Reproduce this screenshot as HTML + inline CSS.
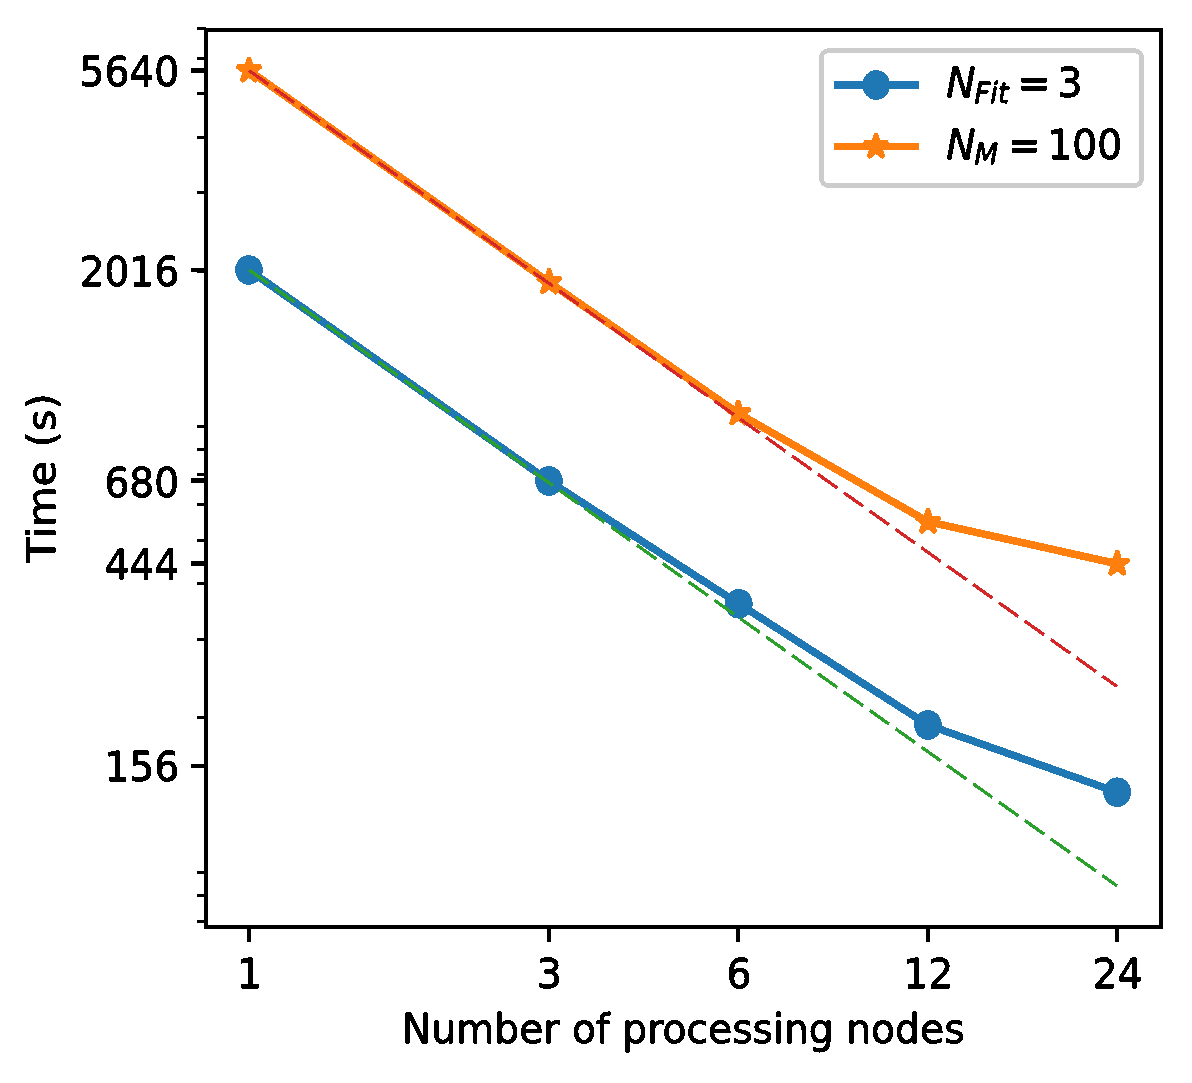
<!DOCTYPE html>
<html lang="en"><head><meta charset="utf-8"><title>Scaling plot</title>
<style>html,body{margin:0;padding:0;background:#fff;}svg{display:block;}text{font-family:"DejaVu Sans", "Liberation Sans", sans-serif;font-size:41.67px;fill:#000;stroke:#000;stroke-width:0.5px;stroke-linejoin:miter;}</style></head><body>
<svg width="1192" height="1083" viewBox="0 0 1192 1083">
<defs><filter id="bin" x="-5%" y="-5%" width="110%" height="110%" color-interpolation-filters="sRGB"><feComponentTransfer><feFuncA type="discrete" tableValues="0 1 1 1"/></feComponentTransfer></filter></defs>
<rect x="0" y="0" width="1192" height="1083" fill="#ffffff"/>
<g id="series" shape-rendering="crispEdges">
<polyline fill="none" stroke="#1f77b4" stroke-width="7.60" stroke-linejoin="round"  points="249.0,270.0 549.0,481.0 738.8,603.8 928.0,725.0 1117.2,792.2"/>
<ellipse cx="249.0" cy="270.0" rx="13.9" ry="14.8" fill="#1f77b4"/>
<ellipse cx="549.0" cy="481.0" rx="13.9" ry="14.8" fill="#1f77b4"/>
<ellipse cx="738.8" cy="603.8" rx="13.9" ry="14.8" fill="#1f77b4"/>
<ellipse cx="928.0" cy="725.0" rx="13.9" ry="14.8" fill="#1f77b4"/>
<ellipse cx="1117.2" cy="792.2" rx="13.9" ry="14.8" fill="#1f77b4"/>
<polyline fill="none" stroke="#ff7f0e" stroke-width="7.60" stroke-linejoin="round"  points="249.0,70.5 549.2,282.3 738.3,413.4 928.0,521.7 1117.3,563.8"/>
<polygon transform="translate(249.0,70.5) scale(0.95,1)" fill="#ff7f0e" stroke="#ff7f0e" stroke-width="4.17" stroke-linejoin="bevel" points="0.00,-13.20 -2.96,-4.08 -12.55,-4.08 -4.80,1.56 -7.76,10.68 0.00,5.04 7.76,10.68 4.80,1.56 12.55,-4.08 2.96,-4.08"/>
<polygon transform="translate(549.2,282.3) scale(0.95,1)" fill="#ff7f0e" stroke="#ff7f0e" stroke-width="4.17" stroke-linejoin="bevel" points="0.00,-13.20 -2.96,-4.08 -12.55,-4.08 -4.80,1.56 -7.76,10.68 0.00,5.04 7.76,10.68 4.80,1.56 12.55,-4.08 2.96,-4.08"/>
<polygon transform="translate(738.3,413.4) scale(0.95,1)" fill="#ff7f0e" stroke="#ff7f0e" stroke-width="4.17" stroke-linejoin="bevel" points="0.00,-13.20 -2.96,-4.08 -12.55,-4.08 -4.80,1.56 -7.76,10.68 0.00,5.04 7.76,10.68 4.80,1.56 12.55,-4.08 2.96,-4.08"/>
<polygon transform="translate(928.0,521.7) scale(0.95,1)" fill="#ff7f0e" stroke="#ff7f0e" stroke-width="4.17" stroke-linejoin="bevel" points="0.00,-13.20 -2.96,-4.08 -12.55,-4.08 -4.80,1.56 -7.76,10.68 0.00,5.04 7.76,10.68 4.80,1.56 12.55,-4.08 2.96,-4.08"/>
<polygon transform="translate(1117.3,563.8) scale(0.95,1)" fill="#ff7f0e" stroke="#ff7f0e" stroke-width="4.17" stroke-linejoin="bevel" points="0.00,-13.20 -2.96,-4.08 -12.55,-4.08 -4.80,1.56 -7.76,10.68 0.00,5.04 7.76,10.68 4.80,1.56 12.55,-4.08 2.96,-4.08"/>
<polyline fill="none" stroke="#2ca02c" stroke-width="3.30" stroke-linejoin="round" stroke-dasharray="23.8 7.91" points="249.0,269.9 1117.0,885.9"/>
<polyline fill="none" stroke="#d62728" stroke-width="3.30" stroke-linejoin="round" stroke-dasharray="23.8 7.91" points="249.0,70.5 1117.0,686.5"/>
</g>
<g id="axes" shape-rendering="crispEdges">
<rect x="206.0" y="30.0" width="955.0" height="897.0" fill="none" stroke="#000" stroke-width="4"/>
<line x1="249.0" y1="927.0" x2="249.0" y2="941.6" stroke="#000" stroke-width="4"/>
<line x1="549.1" y1="927.0" x2="549.1" y2="941.6" stroke="#000" stroke-width="4"/>
<line x1="738.4" y1="927.0" x2="738.4" y2="941.6" stroke="#000" stroke-width="4"/>
<line x1="927.7" y1="927.0" x2="927.7" y2="941.6" stroke="#000" stroke-width="4"/>
<line x1="1117.0" y1="927.0" x2="1117.0" y2="941.6" stroke="#000" stroke-width="4"/>
<line x1="206.0" y1="70.5" x2="191.4" y2="70.5" stroke="#000" stroke-width="4.6"/>
<line x1="206.0" y1="269.9" x2="191.4" y2="269.9" stroke="#000" stroke-width="4.6"/>
<line x1="206.0" y1="480.5" x2="191.4" y2="480.5" stroke="#000" stroke-width="4.6"/>
<line x1="206.0" y1="563.2" x2="191.4" y2="563.2" stroke="#000" stroke-width="4.6"/>
<line x1="206.0" y1="765.9" x2="191.4" y2="765.9" stroke="#000" stroke-width="4.6"/>
<line x1="206.0" y1="28.6" x2="196.8" y2="28.6" stroke="#000" stroke-width="3"/>
<line x1="206.0" y1="58.5" x2="196.8" y2="58.5" stroke="#000" stroke-width="3"/>
<line x1="206.0" y1="93.8" x2="196.8" y2="93.8" stroke="#000" stroke-width="3"/>
<line x1="206.0" y1="137.1" x2="196.8" y2="137.1" stroke="#000" stroke-width="3"/>
<line x1="206.0" y1="192.9" x2="196.8" y2="192.9" stroke="#000" stroke-width="3"/>
<line x1="206.0" y1="271.4" x2="196.8" y2="271.4" stroke="#000" stroke-width="3"/>
<line x1="206.0" y1="426.2" x2="196.8" y2="426.2" stroke="#000" stroke-width="3"/>
<line x1="206.0" y1="449.0" x2="196.8" y2="449.0" stroke="#000" stroke-width="3"/>
<line x1="206.0" y1="474.9" x2="196.8" y2="474.9" stroke="#000" stroke-width="3"/>
<line x1="206.0" y1="504.8" x2="196.8" y2="504.8" stroke="#000" stroke-width="3"/>
<line x1="206.0" y1="540.1" x2="196.8" y2="540.1" stroke="#000" stroke-width="3"/>
<line x1="206.0" y1="583.4" x2="196.8" y2="583.4" stroke="#000" stroke-width="3"/>
<line x1="206.0" y1="639.2" x2="196.8" y2="639.2" stroke="#000" stroke-width="3"/>
<line x1="206.0" y1="717.7" x2="196.8" y2="717.7" stroke="#000" stroke-width="3"/>
<line x1="206.0" y1="872.5" x2="196.8" y2="872.5" stroke="#000" stroke-width="3"/>
<line x1="206.0" y1="895.3" x2="196.8" y2="895.3" stroke="#000" stroke-width="3"/>
<line x1="206.0" y1="921.2" x2="196.8" y2="921.2" stroke="#000" stroke-width="3"/>
</g>
<g id="labels" filter="url(#bin)">
<text transform="translate(249.5,987.6) scale(0.942,1)" text-anchor="middle">1</text>
<text transform="translate(549.6,987.6) scale(0.942,1)" text-anchor="middle">3</text>
<text transform="translate(738.9,987.6) scale(0.942,1)" text-anchor="middle">6</text>
<text transform="translate(928.2,987.6) scale(0.942,1)" text-anchor="middle">12</text>
<text transform="translate(1117.5,987.6) scale(0.942,1)" text-anchor="middle">24</text>
<text transform="translate(179.3,86.4) scale(0.942,1)" text-anchor="end">5640</text>
<text transform="translate(179.3,285.7) scale(0.942,1)" text-anchor="end">2016</text>
<text transform="translate(179.3,496.5) scale(0.942,1)" text-anchor="end">680</text>
<text transform="translate(179.3,578.5) scale(0.942,1)" text-anchor="end">444</text>
<text transform="translate(179.3,780.8) scale(0.942,1)" text-anchor="end">156</text>
<text transform="translate(683.2,1042.8) scale(0.942,1)" text-anchor="middle">Number of processing nodes</text>
<text transform="translate(54.8,478) scale(0.942,1) rotate(-90)" text-anchor="middle">Time (s)</text>
</g>
<g id="legend" shape-rendering="crispEdges">
<rect x="821.4" y="50.7" width="320.2" height="134.8" rx="7" ry="7" fill="#ffffff" fill-opacity="0.8" stroke="#cccccc" stroke-width="4.8"/>
<line x1="834" y1="85" x2="919" y2="85" stroke="#1f77b4" stroke-width="7.6"/>
<ellipse cx="876.2" cy="85" rx="13.9" ry="14.8" fill="#1f77b4"/>
<line x1="834" y1="146.5" x2="919" y2="146.5" stroke="#ff7f0e" stroke-width="7.6"/>
<polygon transform="translate(876.0,146.5) scale(0.95,1)" fill="#ff7f0e" stroke="#ff7f0e" stroke-width="4.17" stroke-linejoin="bevel" points="0.00,-13.20 -2.96,-4.08 -12.55,-4.08 -4.80,1.56 -7.76,10.68 0.00,5.04 7.76,10.68 4.80,1.56 12.55,-4.08 2.96,-4.08"/>
<g id="legendtext" filter="url(#bin)">
<text transform="translate(946.2,97) scale(0.942,1)" font-style="italic">N</text>
<text transform="translate(974.5,103.4) scale(0.942,1)" font-style="italic" style="font-size:29.17px">Fit</text>
<text transform="translate(1017.5,97) scale(0.942,1)">=</text>
<text transform="translate(1057.5,97) scale(0.942,1)">3</text>
<text transform="translate(946.2,158.8) scale(0.942,1)" font-style="italic">N</text>
<text transform="translate(974.5,164.4) scale(0.942,1)" font-style="italic" style="font-size:29.17px">M</text>
<text transform="translate(1008,158.8) scale(0.942,1)">=</text>
<text transform="translate(1047.4,158.8) scale(0.942,1)">100</text>
</g>
</g>
</svg></body></html>
